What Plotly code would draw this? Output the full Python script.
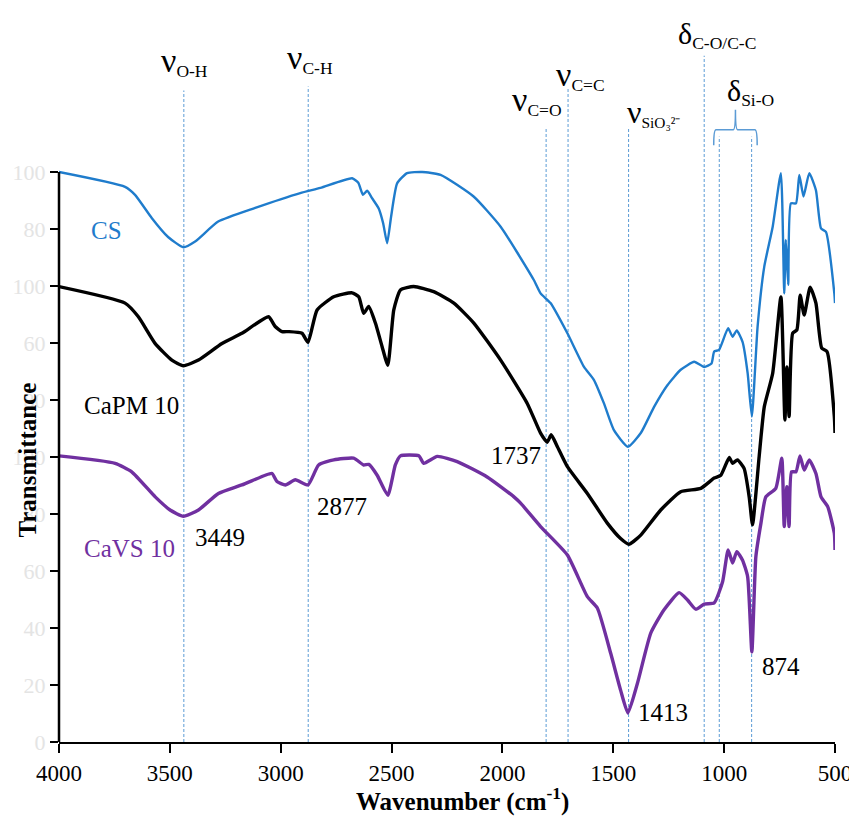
import plotly.graph_objects as go

# ---------------- data ----------------
CS_WN = [4000, 3702, 3657, 3581, 3508, 3439, 3386, 3282, 3115, 2912, 2821, 2678, 2650, 2629, 2610,
         2588, 2558, 2538, 2520, 2502, 2475, 2430, 2362, 2279, 2130, 2008, 1859, 1828, 1783, 1707,
         1632, 1587, 1542, 1497, 1434, 1376, 1316, 1256, 1196, 1135, 1090, 1057, 1045, 1023, 982,
         962, 943, 917, 894, 875, 849, 819, 781, 744, 729, 722, 711, 699, 676, 661, 642, 616, 586,
         563, 541, 503, 500]
CS_T = [100.0, 97.4, 96.0, 91.9, 88.6, 86.8, 87.8, 91.3, 93.7, 96.3, 97.2, 98.9, 98.1, 96.0, 96.7,
        95.4, 93.6, 91.0, 87.5, 92.2, 98.0, 99.8, 100.0, 99.5, 95.7, 90.4, 81.1, 78.7, 77.0, 71.7,
        65.8, 63.5, 59.4, 54.7, 51.8, 54.2, 58.8, 62.6, 65.3, 66.7, 65.8, 66.4, 68.5, 68.8, 72.6,
        71.1, 72.2, 70.2, 64.7, 57.1, 72.9, 83.4, 90.4, 99.8, 78.7, 88.1, 80.2, 94.5, 94.5, 99.5,
        95.7, 99.8, 96.8, 90.1, 89.5, 78.7, 77.0]

PM_WN = [4000, 3702, 3642, 3566, 3491, 3439, 3371, 3265, 3175, 3055, 3025, 2994, 2964, 2904, 2877,
         2836, 2761, 2678, 2648, 2626, 2603, 2573, 2543, 2517, 2490, 2460, 2400, 2310, 2219, 2129,
         2008, 1888, 1828, 1798, 1780, 1752, 1707, 1617, 1527, 1467, 1429, 1376, 1286, 1196, 1105,
         1045, 1015, 977, 962, 940, 910, 887, 872, 842, 819, 781, 744, 726, 717, 707, 691, 672, 657,
         639, 612, 586, 560, 536, 503, 500]
PM_T = [79.9, 77.0, 74.6, 69.9, 67.0, 66.0, 67.0, 69.9, 71.7, 74.6, 72.9, 72.0, 72.0, 71.7, 70.1,
        75.8, 78.1, 78.8, 78.1, 75.2, 76.4, 73.5, 69.4, 66.1, 75.8, 79.3, 79.9, 79.0, 77.0, 73.5,
        67.0, 59.4, 54.2, 52.6, 53.9, 51.8, 48.3, 43.6, 38.4, 35.7, 34.7, 36.3, 40.7, 43.9, 44.5,
        46.3, 46.8, 49.9, 48.9, 49.5, 48.0, 43.0, 38.1, 50.1, 58.8, 64.7, 78.1, 56.5, 65.8, 57.1,
        71.7, 72.3, 78.4, 74.9, 79.8, 77.0, 69.1, 68.5, 57.1, 54.2]

VS_WN = [4000, 3747, 3672, 3566, 3499, 3439, 3371, 3281, 3175, 3070, 3039, 3017, 2979, 2934, 2877,
         2829, 2761, 2671, 2626, 2603, 2565, 2517, 2483, 2460, 2377, 2355, 2294, 2204, 2069, 1948,
         1918, 1828, 1707, 1617, 1572, 1512, 1467, 1434, 1391, 1331, 1271, 1203, 1165, 1128, 1090,
         1045, 1007, 982, 962, 943, 917, 894, 875, 857, 834, 812, 767, 740, 729, 717, 707, 696, 676,
         658, 639, 616, 586, 563, 533, 503, 500]
VS_T = [50.2, 48.9, 47.4, 43.0, 40.7, 39.6, 40.7, 43.6, 45.1, 46.8, 47.1, 45.7, 45.1, 46.0, 45.1,
        48.6, 49.5, 49.8, 48.6, 48.7, 46.8, 43.3, 48.6, 50.2, 50.2, 48.9, 50.1, 49.2, 46.5, 43.0,
        41.9, 37.8, 32.8, 25.5, 23.5, 15.6, 9.1, 5.1, 10.3, 19.1, 23.2, 26.2, 24.9, 23.3, 24.2,
        24.4, 28.1, 33.7, 31.4, 33.4, 31.9, 29.0, 15.8, 32.5, 38.4, 43.0, 44.5, 49.8, 37.8, 44.8,
        37.8, 47.4, 47.4, 50.2, 47.7, 49.5, 47.1, 43.0, 41.3, 36.6, 33.7]

SERIES_NAMES = ["CS", "CaPM 10", "CaVS 10"]

X_TICKS = [4000, 3500, 3000, 2500, 2000, 1500, 1000, 500]
Y_TICKS = [0, 10, 20, 30, 40, 50, 60, 70, 80, 90, 100]
Y_TICK_LABELS = ["0", "20", "40", "60", "80", "100", "80", "60", "100", "80", "100"]

# band marker lines: wavenumber and top of the dashed line (transmittance units)
BAND_WN = [3437, 2876, 1803, 1704, 1431, 1090, 1022, 876]
BAND_TOP = [114.3, 115.0, 107.9, 114.7, 107.9, 120.4, 106.2, 106.2]

# peak labels
PEAK_TEXT = ["3449", "2877", "1737", "1413", "874"]
PEAK_WN = [3274, 2723, 1938, 1278, 745]
PEAK_T = [35.8, 41.4, 50.2, 5.1, 13.3]

# ---------------- figure ----------------
SERIF = "Liberation Serif"
C_CS = "#1f7ccc"
C_PM = "#000000"
C_VS = "#7030a0"
C_BAND = "#5b9bd5"

fig = go.Figure()
for wn, t, col, w, name in [(CS_WN, CS_T, C_CS, 2.4, SERIES_NAMES[0]),
                            (PM_WN, PM_T, C_PM, 3.4, SERIES_NAMES[1]),
                            (VS_WN, VS_T, C_VS, 3.4, SERIES_NAMES[2])]:
    fig.add_trace(go.Scatter(x=wn, y=t, mode="lines", name=name,
                             line=dict(color=col, width=w, shape="spline", smoothing=0.5),
                             showlegend=False))

shapes = []
for wn, top in zip(BAND_WN, BAND_TOP):
    shapes.append(dict(type="line", xref="x", yref="y", x0=wn, x1=wn, y0=0, y1=top,
                       line=dict(color=C_BAND, width=1, dash="3px,2px"), layer="below"))
# y axis line (only 0..100)
shapes.append(dict(type="line", xref="paper", yref="y", x0=0, x1=0, y0=0, y1=100,
                   line=dict(color="black", width=2.5)))
# brace over the Si-O bands
shapes.append(dict(type="path", xref="x", yref="y",
                   path="M 1047,104.7 Q 1047,107.4 1037,107.4 L 959,107.4 Q 949,107.4 949,110.9 "
                        "Q 949,107.4 939,107.4 L 861,107.4 Q 851,107.4 851,104.7",
                   line=dict(color=C_BAND, width=1.5)))

ann = []
def add_text(text, x, y, size, color="black", **kw):
    ann.append(dict(text=text, x=x, y=y, xref="x", yref="y", showarrow=False,
                    xanchor="center", yanchor="middle",
                    font=dict(family=SERIF, size=size, color=color), **kw))

NU = "<span style='font-size:34px'>ν</span>"
DE = "<span style='font-size:30px'>δ</span>"
add_text(NU + "<sub>O-H</sub>", 3432, 119.3, 25)
add_text(NU + "<sub>C-H</sub>", 2868, 120.0, 25)
add_text(NU + "<sub>C=O</sub>", 1843, 112.6, 25)
add_text(NU + "<sub>C=C</sub>", 1649, 117.0, 25)
add_text("<span style='font-size:32px'>ν</span><sub>SiO₃²⁻</sub>", 1319, 110.5, 22)
add_text(DE + "<sub>C-O/C-C</sub>", 1034, 124.0, 25)
add_text(DE + "<sub>Si-O</sub>", 881, 114.0, 25)

add_text(SERIES_NAMES[0], 3785, 89.8, 25, C_CS)
add_text(SERIES_NAMES[1], 3672, 59.1, 25, C_PM)
add_text(SERIES_NAMES[2], 3680, 33.9, 25, C_VS)
for t, x, y in zip(PEAK_TEXT, PEAK_WN, PEAK_T):
    add_text(t, x, y, 25)

# axis titles
ann.append(dict(text="<b>Transmittance</b>", xref="paper", yref="paper", x=-0.041, y=0.39,
                textangle=-90, showarrow=False, xanchor="center", yanchor="middle",
                font=dict(family=SERIF, size=25, color="black")))
ann.append(dict(text="<b>Wavenumber (cm<sup>-1</sup>)</b>", xref="paper", yref="paper",
                x=0.52, y=-0.08, showarrow=False, xanchor="center", yanchor="middle",
                font=dict(family=SERIF, size=25, color="black")))

# the page body adds an 8px offset, so the figure is 8px smaller than the window
fig.update_layout(
    width=849, height=820,
    margin=dict(l=51, r=22, t=12, b=86, autoexpand=False),
    paper_bgcolor="white", plot_bgcolor="white",
    shapes=shapes, annotations=ann,
    xaxis=dict(range=[4000, 500], tickvals=X_TICKS, ticks="outside", ticklen=9, tickwidth=2,
               tickcolor="black", showline=True, linewidth=2, linecolor="black",
               showgrid=False, zeroline=False, automargin=False,
               tickfont=dict(family=SERIF, size=23, color="black")),
    yaxis=dict(range=[0, 722 / 5.7], tickvals=Y_TICKS, ticktext=Y_TICK_LABELS,
               ticks="outside", ticklen=8, tickwidth=2, tickcolor="black",
               showline=False, showgrid=False, zeroline=False, automargin=False,
               tickfont=dict(family=SERIF, size=22, color="#e4e4e4")),
)

fig.write_html("out.html")
